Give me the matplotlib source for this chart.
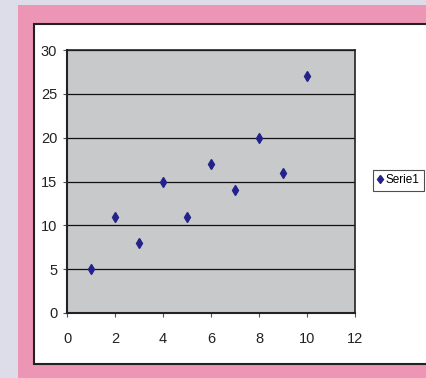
import matplotlib.pyplot as plt
import matplotlib.patches as patches

# Serie1 data
x_values = [1, 2, 3, 4, 5, 6, 7, 8, 9, 10]
y_values = [5, 11, 8, 15, 11, 17, 14, 20, 16, 27]
series_name = 'Serie1'
x_ticks = [0, 2, 4, 6, 8, 10, 12]
y_ticks = [0, 5, 10, 15, 20, 25, 30]

W, H = 426, 378
plt.rcParams['font.family'] = ['Liberation Sans Narrow', 'Liberation Sans', 'DejaVu Sans']

fig = plt.figure(figsize=(W / 100, H / 100), dpi=100)
fig.patch.set_facecolor('#dcdde8')

# pink frame and white chart area (pixel boxes converted to figure coords)
def fig_rect(x0, y0, x1, y1, **kw):
    r = patches.Rectangle((x0 / W, 1 - y1 / H), (x1 - x0) / W, (y1 - y0) / H,
                          transform=fig.transFigure, zorder=-10, **kw)
    fig.patches.append(r)

fig_rect(18, 5, W, H, facecolor='#ec95b5', edgecolor='none')
fig_rect(34, 24, W + 2, 364, facecolor='white', edgecolor='#222222', linewidth=1.5)

ax = fig.add_axes([67 / W, 1 - 313 / H, 288 / W, 263 / H])
ax.set_facecolor('#c8c9cb')
ax.set_xlim(0, 12)
ax.set_ylim(0, 30)
ax.set_xticks(x_ticks)
ax.set_yticks(y_ticks)
ax.yaxis.grid(True, color='#111111', linewidth=0.9)
ax.set_axisbelow(True)

for side, sp in ax.spines.items():
    sp.set_color('#222222')
    sp.set_linewidth(1.5 if side in ('left', 'bottom') else 1.2)

ax.tick_params(axis='both', direction='out', length=3, width=0.8, color='#555555',
               labelsize=10.5, labelcolor='#222222')
ax.tick_params(axis='x', pad=11)
ax.tick_params(axis='y', pad=4)

ax.plot(x_values, y_values, linestyle='none', marker='d', markersize=5.5,
        color='#22228a', label=series_name, clip_on=False)

leg = ax.legend(loc='center left', bbox_to_anchor=(373 / W, 1 - 180.5 / H),
                bbox_transform=fig.transFigure, fontsize=8.5, frameon=True,
                fancybox=False, handlelength=0.4, handletextpad=0.25,
                borderpad=0.4, borderaxespad=0, markerscale=0.8)
leg.get_frame().set_edgecolor('#222222')
leg.get_frame().set_linewidth(0.8)

fig.savefig('out.png', dpi=100, facecolor=fig.get_facecolor())
